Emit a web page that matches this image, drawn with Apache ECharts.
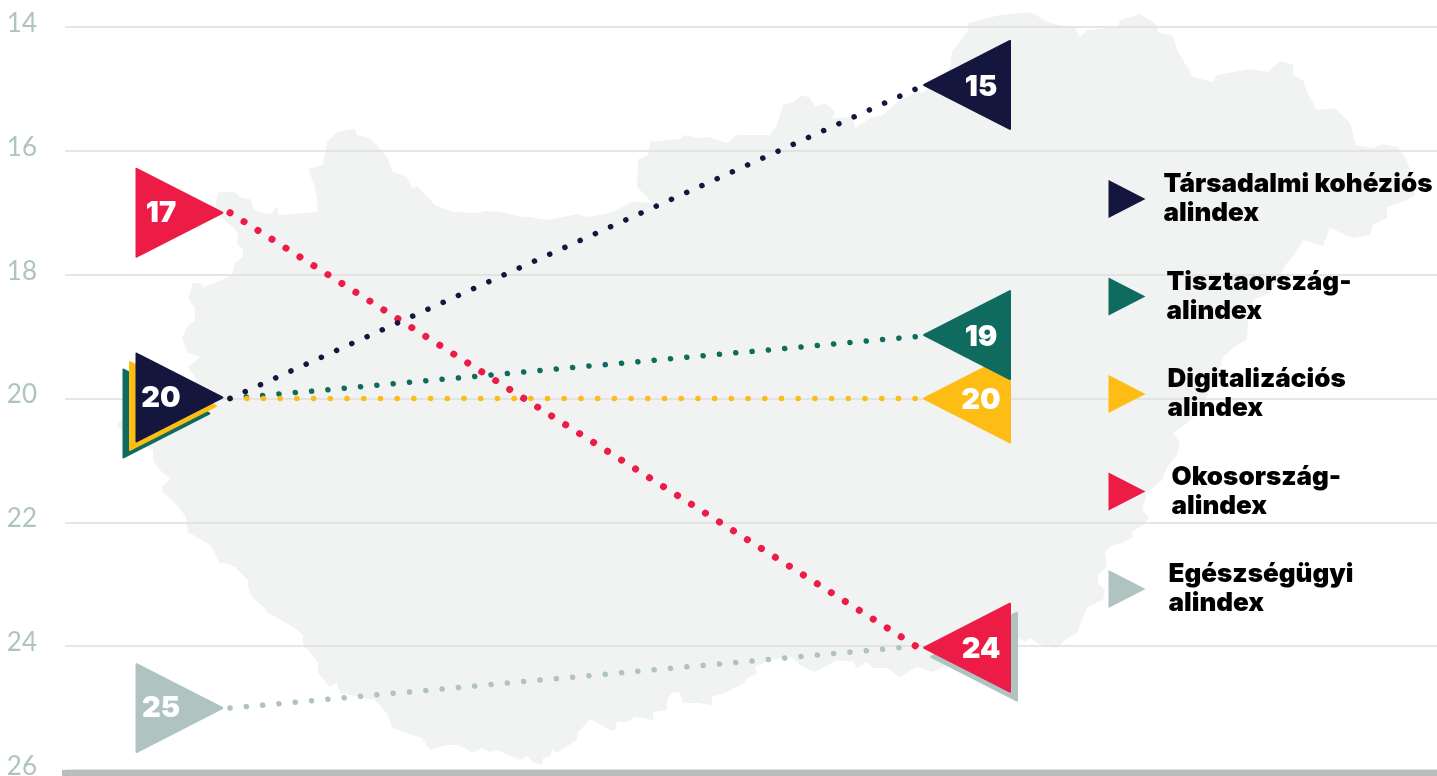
<!DOCTYPE html>
<html><head><meta charset="utf-8">
<style>html,body{margin:0;padding:0;background:#fff}#c{width:1437px;height:776px}</style>
<script src="https://cdn.jsdelivr.net/npm/echarts@6/dist/echarts.min.js"></script>
</head><body><div id="c"></div>
<script>
// ---- data ----
const names = ['Társadalmi kohéziós\nalindex','Tisztaország-\nalindex','Digitalizációs\nalindex','Okosország-\nalindex','Egészségügyi\nalindex'];
const startRank = [20,20,20,17,25];
const endRank   = [15,19,20,24,24];
const yTicks = [14,16,18,20,22,24,26];
// ---- styling ----
const colors = ['#14163e','#0f6b5e','#fdbd15','#ec1c47','#afc3c1'];
const dotWidth = [5.5,5.5,5.5,7,5.5];
const dotGap = [16.6,16.28,16.61,16.44,16.28];
const leftOffset  = [[-50.5,-1],[-63.5,15],[-57,7.5],[-50.5,0],[-50.5,0]];
const rightOffset = [[51,-4],[51,-1.5],[51,0],[51,1.5],[58,10.5]];
const leftZ  = [13,11,12,11,11];
const rightZ = [11,13,11,13,12];
const leftShown  = [true,false,false,true,true];
const rightShown = [true,true,true,true,false];
const legendPad = [13,16,17,21,18];
const triR = 'path://M0 1.5Q0 0 1.5 .6L87 44Q88.4 45 87 46L1.5 89.4Q0 90 0 88.5Z';
const triL = 'path://M88 1.5Q88 0 86.5 .6L1 44Q-.4 45 1 46L86.5 89.4Q88 90 88 88.5Z';
// decorative country silhouette behind the chart (page pixels)
const MAP_OUTLINE = [[217,195],[220,192],[235,192],[240,197],[250,199],[254,210],[267,214],[272,213],[277,206],[279,215],[318,212],[317,200],[315,187],[308,169],[323,165],[327,142],[337,132],[355,129],[357,135],[370,138],[387,157],[393,172],[407,177],[412,188],[418,187],[435,205],[453,212],[477,213],[485,211],[500,212],[523,217],[530,217],[547,220],[578,214],[587,217],[610,213],[620,208],[632,202],[640,202],[652,203],[647,197],[637,187],[638,163],[637,160],[648,155],[650,142],[680,139],[685,135],[697,138],[708,137],[727,143],[737,135],[763,135],[770,135],[777,125],[783,105],[793,102],[802,95],[810,98],[815,107],[825,103],[835,112],[832,118],[853,117],[855,128],[870,118],[883,115],[900,100],[917,92],[923,93],[950,67],[952,52],[968,30],[968,23],[1000,15],[1030,12],[1050,23],[1075,28],[1080,37],[1087,30],[1118,27],[1120,20],[1140,14],[1157,25],[1158,32],[1173,36],[1177,50],[1193,77],[1213,82],[1217,75],[1250,69],[1268,72],[1280,61],[1293,65],[1293,75],[1303,80],[1307,92],[1317,110],[1335,108],[1350,123],[1356,145],[1373,148],[1383,144],[1398,147],[1408,163],[1415,195],[1407,200],[1387,207],[1387,218],[1373,225],[1370,235],[1353,238],[1330,228],[1323,246],[1303,240],[1293,257],[1287,263],[1270,293],[1253,300],[1248,323],[1247,340],[1237,345],[1223,357],[1217,377],[1200,410],[1187,423],[1173,433],[1180,443],[1177,455],[1167,467],[1162,480],[1147,493],[1142,510],[1149,518],[1143,525],[1132,532],[1133,537],[1123,543],[1113,545],[1105,552],[1107,567],[1098,575],[1098,583],[1105,590],[1103,600],[1087,607],[1082,620],[1077,633],[1065,640],[1057,648],[1050,647],[1037,643],[1030,638],[1025,642],[1018,638],[1000,660],[943,667],[933,672],[917,667],[900,677],[887,668],[873,668],[867,662],[857,668],[853,662],[837,660],[815,672],[800,665],[792,657],[770,660],[755,667],[757,674],[747,678],[745,683],[727,692],[712,697],[712,705],[697,703],[683,703],[680,693],[673,692],[667,700],[667,710],[653,712],[653,720],[635,717],[627,722],[617,722],[615,730],[610,730],[590,719],[583,727],[578,732],[577,740],[557,753],[552,750],[550,757],[543,758],[542,765],[532,762],[527,756],[520,760],[497,750],[490,752],[482,748],[473,753],[458,745],[447,745],[430,750],[422,738],[403,732],[392,728],[388,715],[375,700],[360,697],[340,693],[337,683],[330,687],[318,673],[318,663],[310,652],[303,645],[303,635],[290,625],[268,613],[265,608],[253,598],[248,587],[248,580],[235,567],[225,563],[220,563],[210,545],[188,532],[186,517],[177,505],[163,492],[162,486],[170,480],[168,477],[160,470],[153,460],[153,450],[130,440],[117,425],[125,415],[197,380],[188,367],[200,357],[188,353],[182,338],[187,327],[195,320],[195,308],[188,298],[193,283],[200,283],[203,287],[215,283],[232,275],[235,263],[243,257],[243,250],[237,243],[238,233],[233,227],[215,213]];

const series = [];
// Dotted connectors: order so navy sits on top at the crossing
[4,1,3,2,0].forEach(i => series.push({
  type:'line', name:names[i], z:5, silent:true, showSymbol:false, symbol:'none', animation:false,
  data:[[0,startRank[i]],[1,endRank[i]]],
  itemStyle:{color:colors[i]},
  lineStyle:{color:colors[i], width:dotWidth[i], type:[0.1,dotGap[i]], cap:'round'}
}));
function marker(i, xv, val, sym, off, lx, ly, z, show){
  return {
    type:'scatter', name:names[i], z, silent:true, animation:false,
    symbol:sym, symbolSize:[88,90], symbolOffset:off,
    itemStyle:{color:colors[i], opacity:1},
    label:{show, position:'inside', offset:[lx,ly], formatter:'{@[1]}', color:'#fff',
      fontFamily:'Inter', fontWeight:900, fontSize:29},
    data:[[xv,val]]
  };
}
names.forEach((n,i)=>{
  series.push(marker(i,0,startRank[i],triR,leftOffset[i],-18.5,0.5,leftZ[i],leftShown[i]));
  series.push(marker(i,1,endRank[i],triL,rightOffset[i],14,2,rightZ[i],rightShown[i]));
});

const chart = echarts.init(document.getElementById('c'),null,{renderer:'canvas'});
chart.setOption({
  animation:false,
  backgroundColor:'#fff',
  graphic:{elements:[{type:'polygon', z:-1, silent:true, shape:{points:MAP_OUTLINE}, style:{fill:'#f1f3f3'}}]},
  grid:{left:65, right:0, top:27, height:743, containLabel:false, outerBoundsMode:'none'},
  legend:{
    orient:'vertical', left:1108.5, top:170, itemWidth:37, itemHeight:38, itemGap:39.5, selectedMode:false,
    padding:0,
    data:names.map((n,i)=>({name:n, icon:'path://M0 0L37 19L0 38Z',
      itemStyle:{color:colors[i]},
      textStyle:{color:'#000',fontFamily:'Inter',fontWeight:900,fontSize:26,lineHeight:29,padding:[0,0,0,legendPad[i]]}}))
  },
  xAxis:{type:'value', min:(65-230)/686, max:(1437-230)/686, offset:3,
    axisLabel:{show:false}, axisTick:{show:false}, splitLine:{show:false},
    axisLine:{show:true, lineStyle:{color:'#bbbcbc', width:6, cap:'square'}}},
  yAxis:{type:'value', inverse:true, min:14, max:26, interval:2,
    axisLine:{show:false}, axisTick:{show:false},
    splitLine:{show:true, lineStyle:{color:'#dcdedd', width:1.5}},
    axisLabel:{margin:28, color:'#afc3c1', fontFamily:'Lato', fontSize:26, verticalAlign:'bottom', lineHeight:7,
      customValues:yTicks}},
  series
});
</script></body></html>
